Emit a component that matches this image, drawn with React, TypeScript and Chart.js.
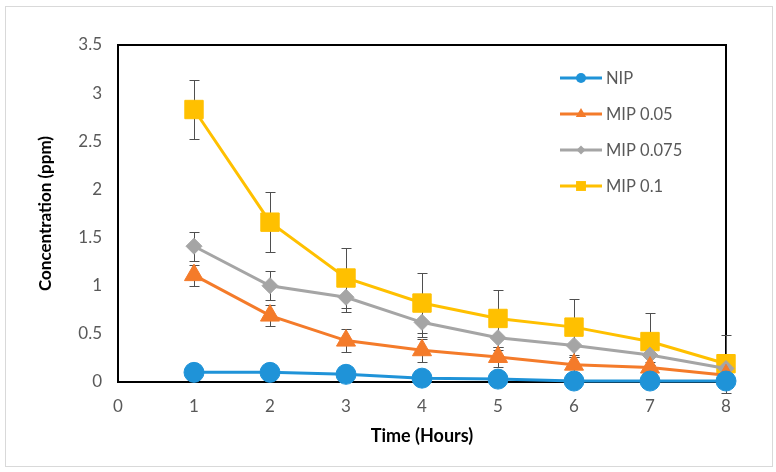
import React, { useEffect, useRef } from 'react';
import { Chart, registerables } from 'chart.js';

Chart.register(...registerables);

// ---- data ----
const hours = [1, 2, 3, 4, 5, 6, 7, 8];
const seriesNames = ['NIP', 'MIP 0.05', 'MIP 0.075', 'MIP 0.1'];
const nipValues = [0.1, 0.1, 0.08, 0.04, 0.03, 0.01, 0.01, 0.01];
const nipErrors = [0, 0, 0, 0, 0, 0, 0, 0];
const mip005Values = [1.11, 0.69, 0.43, 0.33, 0.26, 0.18, 0.15, 0.07];
const mip005Errors = [0.11, 0.11, 0.12, 0.12, 0.1, 0.08, 0.06, 0.03];
const mip0075Values = [1.41, 1.0, 0.88, 0.62, 0.46, 0.38, 0.28, 0.14];
const mip0075Errors = [0.15, 0.15, 0.15, 0.15, 0.13, 0.12, 0.1, 0.06];
const mip01Values = [2.83, 1.66, 1.08, 0.82, 0.66, 0.57, 0.42, 0.19];
const mip01Errors = [0.31, 0.31, 0.31, 0.31, 0.3, 0.29, 0.3, 0.3];
const xAxisMin = 0;
const xAxisMax = 8;
const yAxisMin = 0;
const yAxisMax = 3.5;
const yAxisStep = 0.5;
const xAxisTitle = 'Time (Hours)';
const yAxisTitle = 'Concentration (ppm)';

// ---- styles ----
const colors = ['#1F93D8', '#F47B2A', '#A5A5A5', '#FFC000'];
const pointStyles = ['circle', 'triangle', 'rectRot', 'rect'];
const pointRadii = [10, 11, 8, 13];
const legendRadii = [5, 6, 4.5, 7];
const allValues = [nipValues, mip005Values, mip0075Values, mip01Values];
const allErrors = [nipErrors, mip005Errors, mip0075Errors, mip01Errors];
const FONT = 'Lato, "Open Sans", sans-serif';

const boxPlugin = {
  id: 'plotBox',
  beforeDatasetsDraw(chart: any) {
    const { ctx, chartArea: a } = chart;
    ctx.save();
    ctx.strokeStyle = '#000';
    ctx.lineWidth = 2;
    ctx.strokeRect(a.left, a.top, a.right - a.left, a.bottom - a.top);
    ctx.restore();
  },
};

const errorBarPlugin = {
  id: 'errorBars',
  beforeDatasetsDraw(chart: any) {
    const { ctx } = chart;
    const yScale = chart.scales.y;
    ctx.save();
    ctx.strokeStyle = '#4F4F4F';
    ctx.lineWidth = 1;
    chart.data.datasets.forEach((ds: any, i: number) => {
      const meta = chart.getDatasetMeta(i);
      const errs = allErrors[i];
      meta.data.forEach((pt: any, j: number) => {
        const e = errs[j];
        if (!e) return;
        const v = ds.data[j].y;
        const x = Math.round(pt.x) + 0.5;
        const yT = Math.round(yScale.getPixelForValue(v + e)) + 0.5;
        const yB = Math.round(yScale.getPixelForValue(v - e)) + 0.5;
        ctx.beginPath();
        ctx.moveTo(x, yT);
        ctx.lineTo(x, yB);
        ctx.moveTo(x - 5, yT);
        ctx.lineTo(x + 5, yT);
        ctx.moveTo(x - 5, yB);
        ctx.lineTo(x + 5, yB);
        ctx.stroke();
      });
    });
    ctx.restore();
  },
};

function drawMarker(ctx: CanvasRenderingContext2D, style: string, x: number, y: number, r: number) {
  ctx.beginPath();
  if (style === 'circle') {
    ctx.arc(x, y, r, 0, Math.PI * 2);
  } else if (style === 'triangle') {
    for (let k = 0; k < 3; k++) {
      const ang = -Math.PI / 2 + (k * 2 * Math.PI) / 3;
      const px = x + Math.cos(ang) * r;
      const py = y + Math.sin(ang) * r;
      if (k === 0) ctx.moveTo(px, py);
      else ctx.lineTo(px, py);
    }
    ctx.closePath();
  } else if (style === 'rectRot') {
    ctx.moveTo(x - r, y);
    ctx.lineTo(x, y - r);
    ctx.lineTo(x + r, y);
    ctx.lineTo(x, y + r);
    ctx.closePath();
  } else {
    const s = r * Math.SQRT1_2;
    ctx.rect(x - s, y - s, 2 * s, 2 * s);
  }
  ctx.fill();
}

const legendPlugin = {
  id: 'lineLegend',
  afterDatasetsDraw(chart: any) {
    const { ctx, chartArea: a } = chart;
    const x0 = a.left + 442;
    const lineLen = 42;
    const y0 = a.top + 33;
    const rowH = 36;
    ctx.save();
    chart.data.datasets.forEach((ds: any, i: number) => {
      const y = y0 + i * rowH;
      ctx.strokeStyle = ds.borderColor;
      ctx.lineWidth = 3;
      ctx.beginPath();
      ctx.moveTo(x0, y);
      ctx.lineTo(x0 + lineLen, y);
      ctx.stroke();
      ctx.fillStyle = ds.borderColor;
      drawMarker(ctx, pointStyles[i], x0 + lineLen / 2, y, legendRadii[i]);
      ctx.fillStyle = '#595959';
      ctx.font = `16.5px ${FONT}`;
      ctx.textBaseline = 'middle';
      ctx.textAlign = 'left';
      ctx.fillText(ds.label, x0 + lineLen + 4, y + 1);
    });
    ctx.restore();
  },
};

export default function App() {
  const canvasRef = useRef<HTMLCanvasElement | null>(null);

  useEffect(() => {
    if (!canvasRef.current) return;
    const datasets = seriesNames.map((name, i) => ({
      label: name,
      data: hours.map((h, j) => ({ x: h, y: allValues[i][j] })),
      borderColor: colors[i],
      backgroundColor: colors[i],
      pointBackgroundColor: colors[i],
      pointBorderColor: colors[i],
      pointBorderWidth: 1,
      pointStyle: pointStyles[i],
      pointRadius: pointRadii[i],
      borderWidth: 3,
      tension: 0,
      clip: false as any,
    }));
    const chart = new Chart(canvasRef.current, {
      type: 'line',
      data: { datasets },
      options: {
        animation: false,
        responsive: true,
        maintainAspectRatio: false,
        layout: { padding: { left: 32, top: 45, right: 50, bottom: 21 } },
        plugins: {
          legend: { display: false },
          tooltip: { enabled: false },
        },
        scales: {
          x: {
            type: 'linear',
            min: xAxisMin,
            max: xAxisMax,
            grid: { display: false, drawTicks: false },
            border: { display: false },
            ticks: {
              stepSize: 1,
              color: '#595959',
              padding: 14,
              font: { family: FONT, size: 17 },
            },
            title: {
              display: true,
              text: xAxisTitle,
              color: '#000',
              font: { family: FONT, size: 18, weight: 'bold' },
              padding: { top: 4, bottom: 4 },
            },
            afterFit(scale: any) {
              scale.height = 69;
            },
          },
          y: {
            min: yAxisMin,
            max: yAxisMax,
            grid: { display: false, drawTicks: false },
            border: { display: false },
            ticks: {
              stepSize: yAxisStep,
              color: '#595959',
              padding: 16,
              font: { family: FONT, size: 17 },
              callback: (v: any) => String(Number(v)),
            },
            title: {
              display: true,
              text: yAxisTitle,
              color: '#000',
              font: { family: FONT, size: 17, weight: 'bold' },
              padding: { top: 3, bottom: 4 },
            },
            afterFit(scale: any) {
              scale.width = 86;
            },
          },
        },
      } as any,
      plugins: [boxPlugin, errorBarPlugin, legendPlugin],
    });
    return () => chart.destroy();
  }, []);

  return (
    <div style={{ position: 'fixed', left: 0, top: 0, width: 776, height: 472, background: '#fff' }}>
      <canvas ref={canvasRef} />
      <div
        style={{
          position: 'absolute',
          left: 5,
          top: 6,
          width: 766,
          height: 459,
          border: '1px solid #D9D9D9',
          pointerEvents: 'none',
        }}
      />
    </div>
  );
}
